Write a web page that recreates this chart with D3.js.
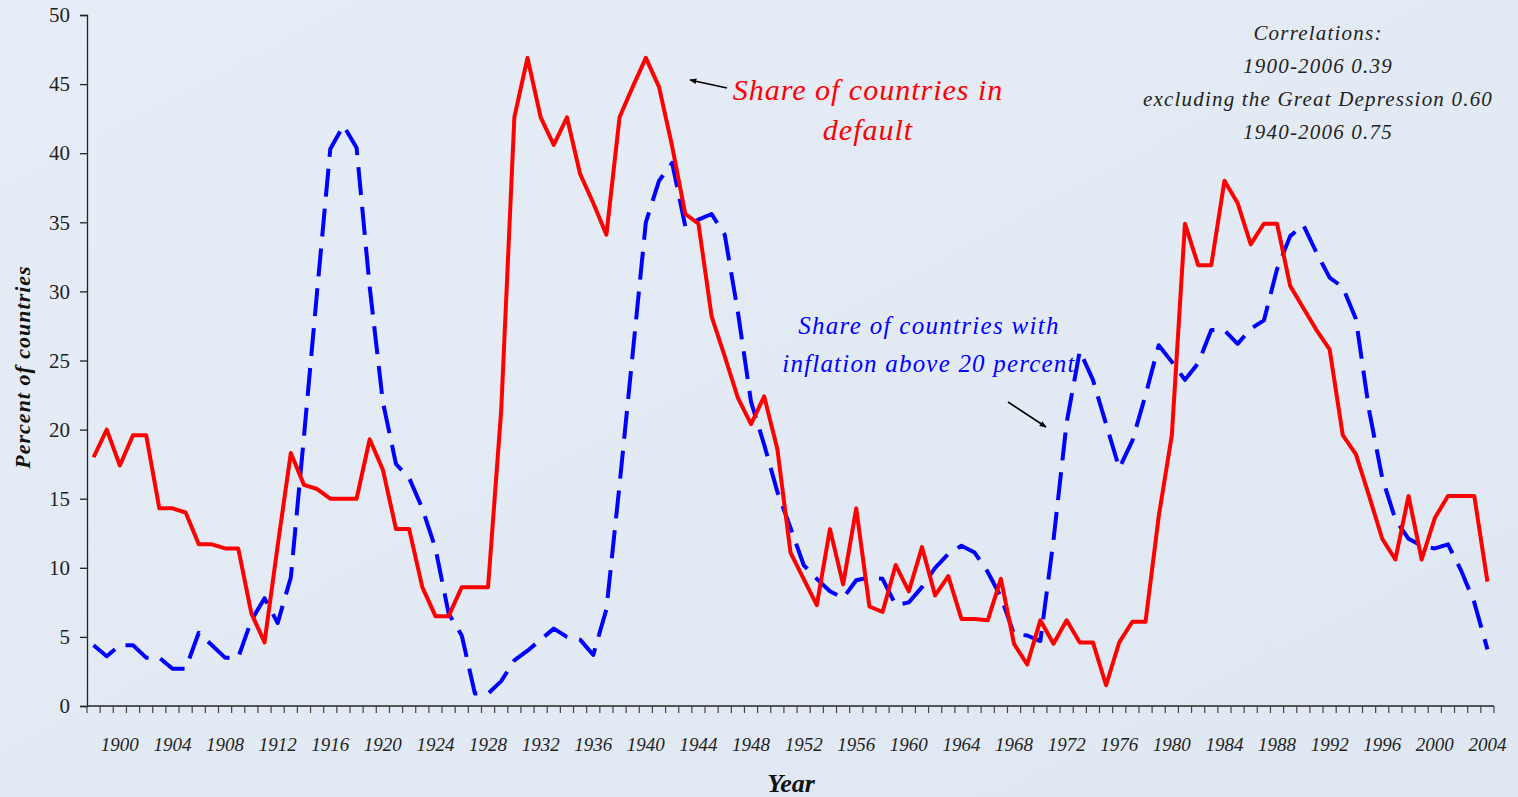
<!DOCTYPE html>
<html><head><meta charset="utf-8">
<script src="https://cdn.jsdelivr.net/npm/d3@7"></script>
<style>
html,body{margin:0;padding:0;background:#e3eaf4;}
svg{display:block;}
</style>
</head><body>
<svg id="chart" width="1518" height="797"></svg>
<script>
// ---- data ----
const years = d3.range(1898, 2005);           // category axis (107 years)
const tickYears = d3.range(1900, 2005, 4);     // labelled years
const yTicks = d3.range(0, 51, 5);

// Share of countries in default (percent)
const defaultShare = [
  18.0, 20.0, 17.4, 19.6, 19.6, 14.3, 14.3, 14.0, 11.7, 11.7,
  11.4, 11.4, 6.7, 4.6, 11.6, 18.3, 16.0, 15.7, 15.0, 15.0,
  15.0, 19.3, 17.1, 12.8, 12.8, 8.6, 6.5, 6.5, 8.6, 8.6,
  8.6, 21.4, 42.6, 46.9, 42.6, 40.6, 42.6, 38.5, 36.4, 34.1,
  42.6, 44.8, 46.9, 44.8, 40.5, 35.6, 34.9, 28.2, 25.3, 22.3,
  20.4, 22.4, 18.6, 11.1, 9.2, 7.3, 12.8, 8.8, 14.3, 7.2,
  6.8, 10.2, 8.3, 11.5, 8.0, 9.4, 6.3, 6.3, 6.2, 9.2,
  4.5, 3.0, 6.2, 4.5, 6.2, 4.6, 4.6, 1.5, 4.6, 6.1,
  6.1, 13.7, 19.6, 34.9, 31.9, 31.9, 38.0, 36.4, 33.4, 34.9,
  34.9, 30.4, 28.8, 27.2, 25.8, 19.6, 18.2, 15.2, 12.1, 10.6,
  15.2, 10.6, 13.6, 15.2, 15.2, 15.2, 9.0
];

// Share of countries with inflation above 20 percent
const inflationShare = [
  4.4, 3.6, 4.4, 4.4, 3.5, 3.5, 2.7, 2.7, 5.3, 4.4,
  3.5, 3.5, 6.2, 7.8, 6.0, 9.3, 19.5, 30.0, 40.3, 42.0,
  40.4, 30.3, 22.0, 17.5, 16.5, 14.3, 11.4, 6.7, 5.1, 0.9,
  0.9, 1.8, 3.3, 4.0, 4.8, 5.6, 5.0, 4.8, 3.7, 7.0,
  16.0, 25.5, 35.0, 38.0, 39.3, 34.7, 35.2, 35.6, 34.1, 28.5,
  22.0, 18.9, 15.5, 12.9, 10.2, 9.2, 8.3, 7.8, 9.1, 9.3,
  9.2, 7.3, 7.5, 8.6, 10.0, 11.0, 11.6, 11.1, 9.7, 7.9,
  5.2, 5.1, 4.7, 12.0, 20.5, 25.7, 23.6, 20.4, 17.2, 19.2,
  22.5, 26.1, 24.9, 23.6, 24.8, 27.2, 27.2, 26.2, 27.3, 27.9,
  31.6, 34.0, 34.8, 32.8, 31.0, 30.3, 28.0, 21.4, 16.5, 13.5,
  12.1, 11.6, 11.4, 11.7, 9.8, 7.5, 4.1
];

const correlationLines = [
  "Correlations:",
  "1900-2006 0.39",
  "excluding the Great Depression 0.60",
  "1940-2006  0.75"
];

// ---- chart ----
const svg = d3.select("#chart");
const W = 1518, H = 797;
const mLeft = 87, mRight = 1494, mTop = 15, mBottom = 706;

const defs = svg.append("defs");
const grad = defs.append("linearGradient").attr("id","bg").attr("x1","0").attr("y1","0").attr("x2","1").attr("y2","1");
grad.append("stop").attr("offset","0").attr("stop-color","#e6edf6");
grad.append("stop").attr("offset","1").attr("stop-color","#dfe7f2");
defs.append("marker").attr("id","arrow").attr("viewBox","0 0 10 10")
  .attr("refX",9).attr("refY",5).attr("markerWidth",7).attr("markerHeight",7)
  .attr("markerUnits","userSpaceOnUse").attr("orient","auto")
  .append("path").attr("d","M0,1 L10,5 L0,9 Z").attr("fill","#000");

svg.append("rect").attr("width",W).attr("height",H).attr("fill","url(#bg)");

const x = d3.scaleBand().domain(years).range([mLeft, mRight]).padding(0);
const y = d3.scaleLinear().domain([0, 50]).range([mBottom, mTop]);
const cx = yr => x(yr) + x.bandwidth() / 2;

const serif = "'Liberation Serif','Times New Roman',serif";

// y axis
const yAxis = svg.append("g").attr("transform", `translate(${mLeft},0)`)
  .call(d3.axisLeft(y).tickValues(yTicks).tickSize(7).tickPadding(10).tickFormat(d3.format("d")));
yAxis.selectAll("path,line").attr("stroke","#222").attr("stroke-width",1.3);
yAxis.selectAll("text").attr("font-family",serif).attr("font-size",21).attr("fill","#222");

// x axis line + ticks at category boundaries
svg.append("line").attr("x1",mLeft).attr("x2",mRight).attr("y1",mBottom).attr("y2",mBottom)
  .attr("stroke","#222").attr("stroke-width",1.3);
const boundaries = years.map(yr => x(yr)).concat([mRight]);
svg.append("g").selectAll("line").data(boundaries).join("line")
  .attr("x1",d=>d).attr("x2",d=>d).attr("y1",mBottom).attr("y2",mBottom+7)
  .attr("stroke","#444").attr("stroke-width",1.2);

// x tick labels
const xAxis = svg.append("g").attr("transform", `translate(0,${mBottom})`)
  .call(d3.axisBottom(x).tickValues(tickYears).tickSize(0).tickPadding(32));
xAxis.select(".domain").remove();
xAxis.selectAll("text").attr("font-family",serif).attr("font-style","italic")
  .attr("font-size",19).attr("fill","#222");

// lines
const line = d3.line().x((d,i) => cx(years[i])).y(d => y(d));
svg.append("path").datum(inflationShare).attr("d", line)
  .attr("fill","none").attr("stroke","#0000ff").attr("stroke-width",4)
  .attr("stroke-dasharray","28,12").attr("stroke-linejoin","round");
svg.append("path").datum(defaultShare).attr("d", line)
  .attr("fill","none").attr("stroke","#ff0000").attr("stroke-width",4)
  .attr("stroke-linejoin","round");

// axis titles
svg.append("text").attr("transform","translate(30,367) rotate(-90)")
  .attr("text-anchor","middle").attr("font-family",serif).attr("font-style","italic")
  .attr("font-weight","bold").attr("font-size",22).attr("letter-spacing",1)
  .attr("fill","#111").text("Percent of countries");
svg.append("text").attr("x",791).attr("y",792).attr("text-anchor","middle")
  .attr("font-family",serif).attr("font-style","italic").attr("font-weight","bold")
  .attr("font-size",26).attr("fill","#111").text("Year");

// annotations
const ann = svg.append("g").attr("font-family",serif).attr("font-style","italic");
ann.append("text").attr("x",868).attr("y",100).attr("text-anchor","middle")
  .attr("font-size",30).attr("fill","#ff0000").attr("letter-spacing",1).text("Share of countries in");
ann.append("text").attr("x",868).attr("y",140).attr("text-anchor","middle")
  .attr("font-size",30).attr("fill","#ff0000").attr("letter-spacing",1).text("default");
ann.append("text").attr("x",929).attr("y",334).attr("text-anchor","middle")
  .attr("font-size",25).attr("fill","#0000ff").attr("letter-spacing",1.3).text("Share of countries with");
ann.append("text").attr("x",929).attr("y",372).attr("text-anchor","middle")
  .attr("font-size",25).attr("fill","#0000ff").attr("letter-spacing",1.2).text("inflation above 20 percent");

svg.append("line").attr("x1",727).attr("y1",88).attr("x2",690).attr("y2",80)
  .attr("stroke","#000").attr("stroke-width",1.6).attr("marker-end","url(#arrow)");
svg.append("line").attr("x1",1008).attr("y1",402).attr("x2",1046).attr("y2",427)
  .attr("stroke","#000").attr("stroke-width",1.6).attr("marker-end","url(#arrow)");

svg.append("g").selectAll("text").data(correlationLines).join("text")
  .attr("x",1318).attr("y",(d,i)=>40+i*33).attr("text-anchor","middle")
  .attr("font-family",serif).attr("font-style","italic").attr("font-size",21)
  .attr("letter-spacing",1.2).attr("fill","#222").text(d=>d);
</script>
</body></html>
